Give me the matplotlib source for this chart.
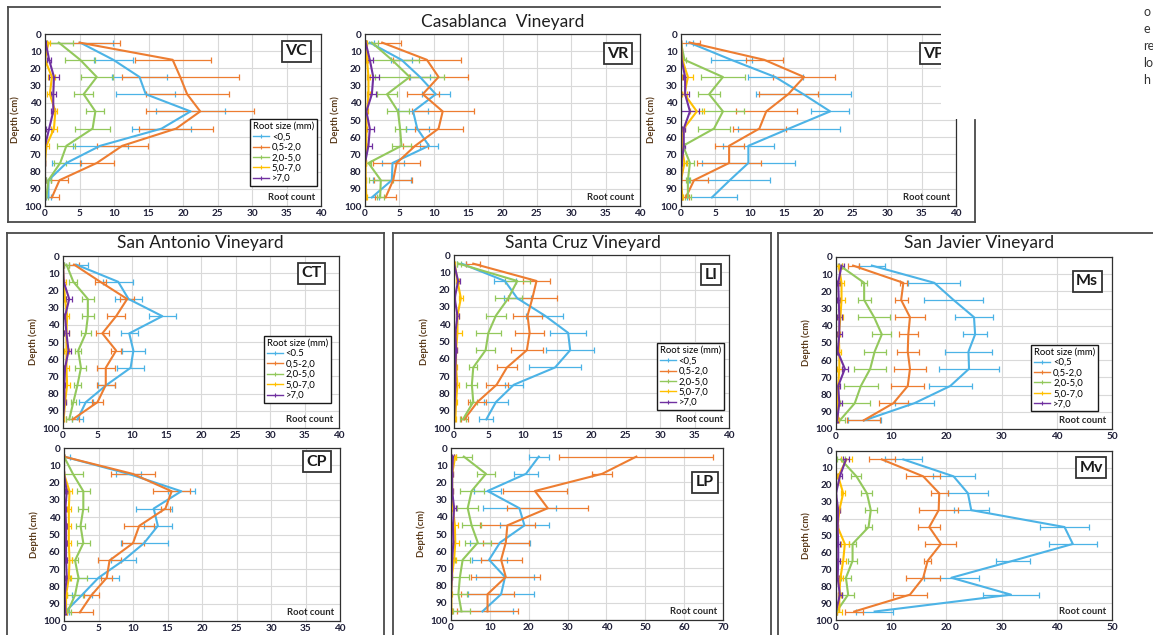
import numpy as np
import matplotlib.pyplot as plt
from matplotlib.lines import Line2D
from matplotlib.patches import Rectangle

plt.rcParams['font.family'] = ['Lato', 'DejaVu Sans']

W, H = 1153, 635

depths = [5, 15, 25, 35, 45, 55, 65, 75, 85, 95]
size_classes = ["<0,5", "0,5-2,0", "2,0-5,0", "5,0-7,0", ">7,0"]
size_classes_ct = ["<0.5", "0,5-2,0", "2,0-5,0", "5,0-7,0", ">7,0"]
colors = ['#4cb3e6', '#ed7d31', '#93c85c', '#ffc000', '#7030a0']

# root counts per size class (rows: <0.5, 0.5-2, 2-5, 5-7, >7) and error bars
vc_mean = [[5.1, 9.9, 13.7, 14.6, 21.1, 16.9, 8.0, 3.1, 0.5, 0.5],
           [5.0, 18.5, 19.6, 20.6, 22.5, 19.0, 11.2, 7.5, 2.1, 1.0],
           [2.0, 5.1, 7.5, 5.6, 7.3, 6.9, 3.1, 2.2, 0.5, 0.2],
           [0.5, 0.0, 1.0, 0.7, 1.5, 1.3, 0.2, 0.0, 0.0, 0.0],
           [0.1, 0.6, 1.3, 1.2, 1.2, 0.6, 0.0, 0.0, 0.0, 0.0]]
vc_err = [[4.8, 2.8, 4.0, 4.3, 5.0, 4.3, 4.0, 2.1, 0.3, 0.3],
          [5.9, 5.5, 8.5, 6.0, 7.8, 5.4, 3.7, 2.5, 1.3, 1.1],
          [2.0, 2.2, 2.3, 1.4, 1.3, 2.5, 1.3, 0.9, 0.3, 0.2],
          [0.2, 0.0, 0.5, 0.4, 0.3, 0.5, 0.4, 0.0, 0.0, 0.0],
          [0.1, 0.3, 0.7, 0.4, 0.3, 0.5, 0.1, 0.0, 0.0, 0.0]]

vr_mean = [[0.7, 5.3, 8.0, 10.3, 7.0, 7.6, 9.3, 4.0, 3.9, 1.0],
           [2.5, 9.0, 10.7, 8.4, 11.3, 10.7, 7.3, 4.6, 4.1, 3.0],
           [1.0, 3.9, 6.5, 3.2, 4.8, 5.1, 5.3, 0.5, 2.3, 2.2],
           [0.2, 0.3, 0.5, 0.5, 0.3, 0.2, 0.2, 0.1, 0.1, 0.2],
           [0.1, 0.7, 1.2, 1.0, 0.2, 0.7, 0.5, 0.0, 0.0, 0.0]]
vr_err = [[0.6, 1.5, 1.5, 2.0, 2.2, 1.7, 1.3, 1.6, 2.8, 1.0],
          [2.8, 5.0, 4.3, 2.3, 4.5, 3.5, 1.8, 3.4, 2.8, 1.5],
          [0.9, 4.0, 5.0, 1.4, 1.6, 0.8, 1.4, 0.3, 1.7, 0.5],
          [0.1, 0.1, 0.2, 0.2, 0.1, 0.1, 0.1, 0.0, 0.0, 0.1],
          [0.1, 0.4, 0.8, 0.6, 0.1, 0.6, 0.5, 0.0, 0.0, 0.0]]

vp_mean = [[1.2, 7.3, 13.7, 17.8, 21.7, 15.7, 9.8, 9.8, 7.1, 4.5],
           [1.3, 12.1, 17.9, 15.6, 12.4, 11.4, 7.0, 7.0, 1.9, 0.7],
           [0.0, 0.5, 6.1, 4.1, 6.1, 4.8, 0.3, 1.3, 1.0, 1.0],
           [0.0, 0.2, 1.0, 0.5, 2.3, 0.4, 0.1, 0.5, 0.0, 0.2],
           [0.0, 0.1, 0.6, 0.6, 1.3, 0.4, 0.4, 0.1, 0.0, 0.0]]
vp_err = [[0.5, 3.0, 4.0, 6.9, 2.8, 7.4, 3.7, 6.8, 5.9, 3.7],
          [1.5, 2.7, 4.5, 4.3, 4.4, 3.8, 2.1, 4.7, 2.0, 0.5],
          [0.0, 0.2, 3.2, 1.6, 3.0, 2.3, 0.2, 0.6, 0.3, 0.4],
          [0.0, 0.1, 0.8, 0.3, 1.0, 0.2, 0.1, 0.3, 0.0, 0.1],
          [0.0, 0.1, 0.3, 0.6, 1.3, 0.2, 0.2, 0.1, 0.0, 0.0]]

ct_mean = [[1.9, 8.0, 9.5, 14.4, 9.6, 10.2, 9.8, 6.3, 3.3, 2.1],
           [1.6, 5.4, 9.3, 7.7, 5.7, 7.7, 6.2, 6.2, 5.0, 1.4],
           [0.5, 1.5, 3.6, 3.6, 3.3, 2.2, 2.6, 2.1, 1.5, 0.9],
           [0.0, 0.1, 0.3, 0.6, 0.5, 0.5, 0.5, 0.6, 0.3, 0.1],
           [0.0, 0.1, 0.9, 0.3, 0.5, 0.8, 0.3, 0.2, 0.2, 0.0]]
ct_err = [[1.7, 2.2, 2.0, 2.0, 1.2, 1.7, 2.0, 1.3, 1.0, 0.8],
          [0.7, 0.8, 1.0, 1.3, 0.9, 0.7, 1.3, 1.3, 0.8, 0.9],
          [0.3, 0.6, 0.9, 0.9, 0.7, 0.4, 0.8, 0.5, 0.4, 0.4],
          [0.0, 0.3, 0.1, 0.2, 0.3, 0.3, 0.3, 0.4, 0.1, 0.1],
          [0.0, 0.1, 0.4, 0.1, 0.3, 0.3, 0.1, 0.1, 0.2, 0.0]]

cp_mean = [[0.0, 9.4, 17.0, 13.0, 13.6, 11.6, 8.6, 5.0, 2.6, 0.1],
           [0.0, 10.0, 15.6, 14.7, 10.9, 10.0, 6.6, 6.2, 4.0, 2.3],
           [0.0, 1.3, 2.8, 2.8, 2.4, 2.8, 1.6, 2.1, 1.6, 0.5],
           [0.0, 0.0, 0.8, 0.7, 0.7, 0.7, 0.8, 0.7, 0.3, 0.3],
           [0.0, 0.0, 0.4, 0.2, 0.3, 0.3, 0.3, 0.4, 0.1, 0.2]]
cp_err = [[0.8, 1.8, 2.0, 2.6, 2.0, 3.4, 1.8, 3.0, 1.5, 0.6],
          [0.0, 3.2, 2.7, 0.6, 2.2, 1.6, 1.7, 0.8, 1.1, 1.9],
          [0.0, 1.4, 0.9, 0.7, 0.6, 0.9, 0.4, 1.2, 1.2, 0.5],
          [0.0, 0.0, 0.4, 0.3, 0.3, 0.3, 0.4, 0.3, 0.1, 0.2],
          [0.0, 0.0, 0.2, 0.1, 0.1, 0.2, 0.1, 0.2, 0.1, 0.1]]

li_mean = [[1.1, 7.4, 9.2, 13.2, 16.6, 16.9, 14.7, 8.7, 6.1, 4.7],
           [2.8, 12.0, 11.4, 10.7, 11.0, 10.6, 7.7, 6.2, 3.4, 1.5],
           [0.7, 9.2, 7.9, 6.1, 5.0, 4.6, 2.8, 2.6, 2.8, 1.3],
           [0.1, 0.5, 1.0, 0.5, 0.5, 0.3, 0.3, 0.5, 0.3, 0.2],
           [0.0, 0.6, 0.1, 0.5, 0.2, 0.3, 0.2, 0.2, 0.1, 0.0]]
li_err = [[0.6, 1.6, 2.0, 2.7, 2.6, 3.5, 3.8, 1.3, 1.7, 1.0],
          [1.0, 2.0, 3.6, 2.1, 2.1, 2.3, 1.4, 1.6, 1.3, 0.5],
          [0.3, 1.8, 2.0, 1.4, 1.8, 1.4, 0.6, 0.8, 0.5, 0.5],
          [0.1, 0.2, 0.3, 0.2, 0.6, 0.1, 0.1, 0.2, 0.1, 0.1],
          [0.0, 0.2, 0.1, 0.2, 0.1, 0.1, 0.1, 0.1, 0.1, 0.0]]

lp_mean = [[22.6, 19.3, 9.4, 17.6, 18.9, 12.6, 9.8, 13.9, 12.9, 8.1],
           [47.7, 38.9, 21.6, 24.9, 14.5, 14.1, 12.9, 14.1, 9.4, 9.4],
           [3.3, 9.0, 5.3, 4.3, 5.3, 6.9, 3.0, 2.3, 1.9, 2.7],
           [1.1, 0.3, 0.3, 0.5, 1.0, 1.1, 0.8, 0.2, 0.1, 0.1],
           [0.5, 0.3, 0.3, 0.8, 0.5, 0.6, 0.3, 0.2, 0.0, 0.0]]
lp_err = [[2.5, 3.0, 3.4, 9.4, 6.3, 7.7, 4.5, 7.4, 8.5, 7.9],
          [19.8, 2.6, 8.2, 10.4, 7.0, 5.9, 5.3, 8.9, 6.8, 7.9],
          [2.0, 2.4, 3.1, 2.7, 2.4, 3.3, 2.0, 2.3, 2.2, 2.3],
          [0.3, 0.1, 0.1, 0.2, 0.8, 1.0, 0.5, 0.1, 0.1, 0.1],
          [0.3, 0.1, 0.1, 0.6, 0.2, 0.2, 0.1, 0.1, 0.0, 0.0]]

ms_mean = [[6.5, 17.8, 21.3, 25.0, 25.2, 24.0, 24.1, 20.7, 14.2, 5.1],
           [3.1, 12.2, 11.8, 13.4, 13.1, 13.0, 13.4, 13.0, 10.4, 5.0],
           [0.7, 5.1, 5.1, 6.9, 8.3, 7.0, 6.2, 4.5, 3.4, 0.7],
           [0.5, 1.0, 1.0, 0.8, 0.5, 0.6, 0.6, 0.4, 0.3, 0.4],
           [1.0, 0.4, 0.5, 0.6, 0.6, 0.3, 1.6, 0.4, 0.6, 0.2]]
ms_err = [[2.3, 4.7, 5.4, 3.5, 2.2, 4.2, 5.5, 3.9, 3.6, 3.0],
          [1.0, 0.6, 1.2, 2.8, 1.7, 2.0, 2.9, 3.0, 2.7, 3.0],
          [0.3, 0.6, 1.2, 2.9, 1.7, 2.0, 2.9, 3.1, 2.7, 1.0],
          [0.5, 0.5, 0.6, 0.4, 0.2, 0.3, 0.4, 0.2, 0.3, 0.2],
          [0.5, 0.3, 0.3, 0.4, 0.5, 0.1, 0.6, 0.4, 0.5, 0.1]]

mv_mean = [[12.2, 21.3, 23.9, 24.5, 41.4, 42.9, 32.0, 20.9, 31.7, 7.0],
           [8.3, 15.8, 18.7, 18.6, 16.9, 19.0, 16.6, 15.8, 13.4, 3.3],
           [0.9, 3.7, 5.6, 6.3, 5.9, 3.0, 3.0, 1.8, 2.2, 0.1],
           [1.9, 0.4, 1.3, 0.6, 0.3, 1.6, 1.3, 0.8, 0.6, 0.6],
           [1.8, 0.7, 0.0, 0.4, 0.3, 0.4, 0.4, 0.3, 0.7, 0.0]]
mv_err = [[3.4, 3.8, 3.6, 3.2, 4.4, 4.3, 3.1, 5.0, 5.0, 3.4],
          [2.3, 3.1, 1.5, 3.5, 2.0, 2.8, 0.6, 3.1, 3.1, 1.6],
          [0.7, 0.9, 1.0, 1.1, 0.7, 0.6, 0.8, 0.9, 1.1, 0.1],
          [1.0, 0.2, 0.4, 0.2, 0.1, 0.7, 0.6, 0.4, 0.3, 0.5],
          [0.5, 0.3, 0.0, 0.3, 0.1, 0.3, 0.3, 0.3, 0.3, 0.0]]

TICK_COLOR = '#1f1f38'
LABEL_COLOR = '#5a3b1c'
BOX_COLOR = '#4a4a4a'


def fx(x):
    return x / W


def fy(y):
    return 1 - y / H


def draw_panel(fig, rect, means, errs, xmax, xstep, tag, tag_xy,
               legend_at=None, labels=size_classes):
    x0, x1, y0, y1 = rect
    ax = fig.add_axes([fx(x0), fy(y1), (x1 - x0) / W, (y1 - y0) / H])
    for vals, err, c in zip(means, errs, colors):
        ax.errorbar(vals, depths, xerr=err, color=c, lw=1.5,
                    elinewidth=0.9, capsize=2, capthick=0.9)
    ax.set_xlim(0, xmax)
    ax.set_ylim(100, 0)
    ax.set_xticks(np.arange(0, xmax + 1, xstep))
    ax.set_yticks(range(0, 101, 10))
    ax.grid(True, color='#d9d9d9', lw=0.8)
    ax.set_axisbelow(True)
    ax.tick_params(length=0, labelsize=7.2, labelcolor=TICK_COLOR, pad=2.5)
    for lbl in ax.get_xticklabels() + ax.get_yticklabels():
        lbl.set_fontweight('bold')
    for sp in ax.spines.values():
        sp.set_color('#303030')
        sp.set_linewidth(0.9)
    ax.set_ylabel('Depth (cm)', fontsize=6.8, color=LABEL_COLOR,
                  fontweight='bold', labelpad=3)
    ax.text(0.978, 0.05, 'Root count', transform=ax.transAxes, ha='right',
            va='center', fontsize=6.8, fontweight='bold', color='#2a2a2a')
    ax.text(tag_xy[0], tag_xy[1], tag, transform=ax.transAxes, ha='center',
            va='center', fontsize=11.5, fontweight='bold', color='#1a1a1a',
            bbox=dict(boxstyle='square,pad=0.22', fc='white', ec='#333333', lw=1.3))
    if legend_at is not None:
        handles = [Line2D([], [], color=c, lw=1.0, marker='+', ms=3, mew=0.8)
                   for c in colors]
        leg = ax.legend(handles, labels, title='Root size (mm)', loc='upper right',
                        bbox_to_anchor=legend_at, fontsize=6.8, title_fontsize=6.8,
                        fancybox=False, framealpha=1, edgecolor='#1a1a1a',
                        borderpad=0.3, handlelength=1.7, handletextpad=0.3,
                        labelspacing=0.15, borderaxespad=0, alignment='left')
        leg.get_frame().set_linewidth(1.0)
    return ax


def line(fig, xs, ys, color=BOX_COLOR, lw=1.3):
    fig.add_artist(Line2D([fx(x) for x in xs], [fy(y) for y in ys],
                          transform=fig.transFigure, color=color, lw=lw))


fig = plt.figure(figsize=(W / 100, H / 100), dpi=100)

# Casablanca
draw_panel(fig, (45, 321, 34, 206), vc_mean, vc_err, 40, 5, 'VC', (0.91, 0.9),
           legend_at=(0.985, 0.505))
draw_panel(fig, (365, 640, 34, 206), vr_mean, vr_err, 40, 5, 'VR', (0.92, 0.885))
draw_panel(fig, (681, 956, 34, 206), vp_mean, vp_err, 40, 5, 'VP', (0.92, 0.885))

# San Antonio
draw_panel(fig, (63, 339, 256, 428), ct_mean, ct_err, 40, 5, 'CT', (0.90, 0.9),
           legend_at=(0.97, 0.535), labels=size_classes_ct)
draw_panel(fig, (64, 340, 448, 621), cp_mean, cp_err, 40, 5, 'CP', (0.917, 0.92))

# Santa Cruz
draw_panel(fig, (454, 729, 255, 428), li_mean, li_err, 40, 5, 'LI', (0.935, 0.885),
           legend_at=(0.98, 0.49))
draw_panel(fig, (451, 723, 448, 620), lp_mean, lp_err, 70, 10, 'LP', (0.934, 0.8))

# San Javier
draw_panel(fig, (836, 1112, 257, 429), ms_mean, ms_err, 50, 10, 'Ms', (0.91, 0.86),
           legend_at=(0.95, 0.49))
draw_panel(fig, (836, 1112, 451, 620), mv_mean, mv_err, 50, 10, 'Mv', (0.924, 0.9))

# cropped page region at the top right
fig.add_artist(Rectangle((fx(941), fy(119)), 1 - fx(941), 119 / H,
                         transform=fig.transFigure, fc='white', ec='none', zorder=10))
for txt, yy in zip(['o', 'e', 're', 'lo', 'h'], [12, 29, 46, 63, 80]):
    fig.text(fx(1143), fy(yy), txt, fontsize=9, color='#333333', va='center',
             ha='left', zorder=11)

# group boxes
line(fig, [8, 940], [7, 7])
line(fig, [8, 8], [7, 222])
line(fig, [8, 975], [222, 222])
line(fig, [975, 975], [120, 222])
for xa, xb in [(7, 384), (393, 771)]:
    line(fig, [xa, xb], [233, 233])
    line(fig, [xa, xa], [233, 640])
    line(fig, [xb, xb], [233, 640])
line(fig, [778, 1160], [233, 233])
line(fig, [778, 778], [233, 640])

# group titles
for title, xc, yc in [('Casablanca  Vineyard', 503, 22), ('San Antonio Vineyard', 200, 243),
                      ('Santa Cruz Vineyard', 583, 243), ('San Javier Vineyard', 979, 243)]:
    fig.text(fx(xc), fy(yc), title, fontsize=12.5, ha='center', va='center', color='#1f1f1f')

fig.savefig('out.png', dpi=100)
